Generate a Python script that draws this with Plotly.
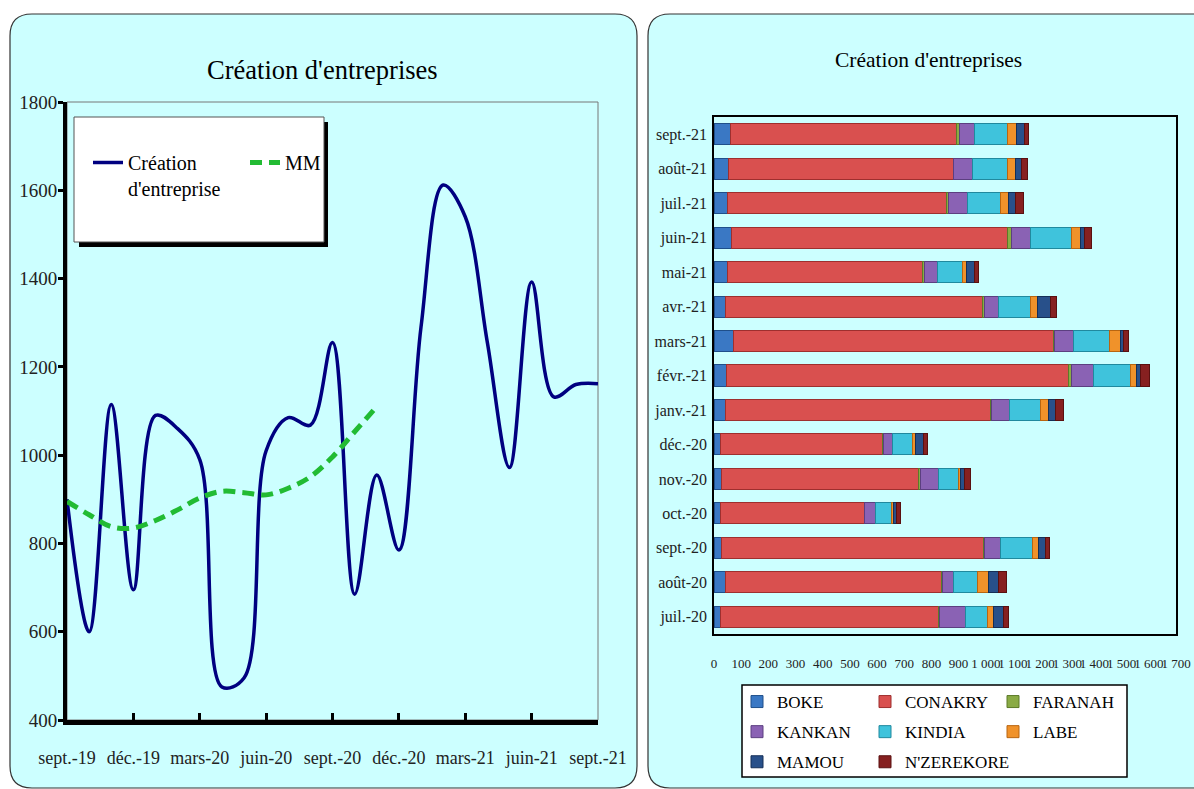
import plotly.graph_objects as go

# ---------------- data ----------------
months = ["sept.-19", "oct.-19", "nov.-19", "déc.-19", "janv.-20", "févr.-20", "mars-20",
          "avr.-20", "mai-20", "juin-20", "juil.-20", "août-20", "sept.-20", "oct.-20",
          "nov.-20", "déc.-20", "janv.-21", "févr.-21", "mars-21", "avr.-21", "mai-21",
          "juin-21", "juil.-21", "août-21", "sept.-21"]
creation = [900, 600, 1115, 695, 1090, 1060, 990, 475, 495, 1010, 1085, 1068, 1255, 685,
            955, 785, 1290, 1612, 1540, 1255, 972, 1392, 1132, 1160, 1162]
mm = [895, 865, 838, 835, 852, 876, 903, 918, 915, 910, 925, 951, 996, 1053, 1110,
      None, None, None, None, None, None, None, None, None, None]
line_ticks = ["sept.-19", "déc.-19", "mars-20", "juin-20", "sept.-20", "déc.-20",
              "mars-21", "juin-21", "sept.-21"]
y_ticks_left = [400, 600, 800, 1000, 1200, 1400, 1600, 1800]

bar_months = ["juil.-20", "août-20", "sept.-20", "oct.-20", "nov.-20", "déc.-20", "janv.-21",
              "févr.-21", "mars-21", "avr.-21", "mai-21", "juin-21", "juil.-21", "août-21",
              "sept.-21"]
boke      = [23, 44, 26, 24, 29, 23, 42, 47, 73, 44, 48, 65, 48, 55, 59]
conakry   = [802, 793, 967, 528, 724, 596, 976, 1259, 1177, 943, 720, 1015, 807, 826, 835]
faranah   = [3, 5, 4, 3, 5, 3, 4, 10, 2, 9, 8, 13, 9, 2, 10]
kankan    = [96, 40, 57, 39, 69, 35, 65, 79, 69, 50, 48, 72, 69, 69, 55]
kindia    = [84, 88, 118, 60, 72, 74, 113, 139, 135, 118, 89, 149, 122, 127, 121]
labe      = [21, 39, 23, 6, 9, 9, 29, 19, 40, 25, 15, 33, 29, 30, 33]
mamou     = [38, 38, 25, 13, 15, 31, 28, 18, 11, 48, 31, 15, 25, 23, 29]
nzerekore = [15, 28, 15, 15, 20, 14, 30, 31, 19, 24, 13, 28, 28, 23, 16]
x_ticks_bar = list(range(0, 1800, 100))
x_ticktext_bar = [str(v) if v < 1000 else f"{v // 1000} {v % 1000:03d}" for v in x_ticks_bar]

W, H = 1194, 789
FONT = "Liberation Serif, Times New Roman, serif"


def px(x):
    return x / W


def py(y):
    return 1 - y / H


fig = go.Figure()

# ---------------- left: line chart ----------------
fig.add_trace(go.Scatter(
    x=months, y=creation, mode="lines", name="Création<br>d'entreprise",
    line=dict(color="#000080", width=3.5, shape="spline", smoothing=1.0),
    xaxis="x", yaxis="y", legend="legend"))
fig.add_trace(go.Scatter(
    x=months, y=mm, mode="lines", name="MM",
    line=dict(color="#22bb33", width=5, dash="12px,7px", shape="spline", smoothing=1.0),
    xaxis="x", yaxis="y", legend="legend"))

# ---------------- right: stacked bars ----------------
# legend columns: legend2 = col 1, legend3 = col 2, legend4 = col 3
series = [
    ("BOKE", boke, "#3a78c4", "#1f4f8a", "legend2"),
    ("CONAKRY", conakry, "#d9504f", "#9e2f2e", "legend3"),
    ("FARANAH", faranah, "#8aab45", "#5c7a28", "legend4"),
    ("KANKAN", kankan, "#8a62b4", "#5c3f80", "legend2"),
    ("KINDIA", kindia, "#3fc3dc", "#20899e", "legend3"),
    ("LABE", labe, "#f0922a", "#b86510", "legend4"),
    ("MAMOU", mamou, "#28508a", "#142f57", "legend2"),
    ("N'ZEREKORE", nzerekore, "#862020", "#5a1010", "legend3"),
]
for name, vals, col, edge, lg in series:
    fig.add_trace(go.Bar(
        y=bar_months, x=vals, orientation="h", name=name, legendgroup=name,
        marker=dict(color=col, line=dict(color=edge, width=1)),
        xaxis="x2", yaxis="y2", legend=lg))


# ---------------- shapes: panels, frames, legend boxes ----------------
def rounded(x0, y0, x1, y1, r):
    return (f"M {px(x0 + r)},{py(y0)} L {px(x1 - r)},{py(y0)} "
            f"Q {px(x1)},{py(y0)} {px(x1)},{py(y0 + r)} "
            f"L {px(x1)},{py(y1 - r)} Q {px(x1)},{py(y1)} {px(x1 - r)},{py(y1)} "
            f"L {px(x0 + r)},{py(y1)} Q {px(x0)},{py(y1)} {px(x0)},{py(y1 - r)} "
            f"L {px(x0)},{py(y0 + r)} Q {px(x0)},{py(y0)} {px(x0 + r)},{py(y0)} Z")


shapes = [
    dict(type="path", xref="paper", yref="paper", path=rounded(10, 14, 637, 788, 22),
         fillcolor="#ccffff", line=dict(color="#333333", width=1.2), layer="below"),
    dict(type="path", xref="paper", yref="paper", path=rounded(648, 14, 1215, 788, 22),
         fillcolor="#ccffff", line=dict(color="#333333", width=1.2), layer="below"),
    # thin grey frame for line plot
    dict(type="rect", xref="x domain", yref="y domain", x0=0, x1=1, y0=0, y1=1,
         line=dict(color="#777777", width=1), fillcolor="rgba(0,0,0,0)", layer="below"),
    # left legend shadow + box
    dict(type="rect", xref="paper", yref="paper", x0=px(79), x1=px(328), y0=py(247), y1=py(122),
         fillcolor="#000000", line=dict(width=0), layer="above"),
    dict(type="rect", xref="paper", yref="paper", x0=px(74), x1=px(324), y0=py(242), y1=py(117),
         fillcolor="#ffffff", line=dict(color="#555555", width=1), layer="above"),
    # bar legend box
    dict(type="rect", xref="paper", yref="paper", x0=px(742), x1=px(1127), y0=py(777), y1=py(685),
         fillcolor="#ffffff", line=dict(color="#000000", width=1.5), layer="below"),
]

annotations = [
    dict(text="Création d'entreprises", xref="paper", yref="paper", x=px(322), y=py(70),
         xanchor="center", yanchor="middle", showarrow=False,
         font=dict(family=FONT, size=26.5, color="#000000")),
    dict(text="Création d'entreprises", xref="paper", yref="paper", x=px(928), y=py(60),
         xanchor="center", yanchor="middle", showarrow=False,
         font=dict(family=FONT, size=21.5, color="#000000")),
]

bar_legend = dict(orientation="v", bgcolor="rgba(0,0,0,0)", borderwidth=0,
                  xanchor="left", yanchor="top", traceorder="grouped", tracegroupgap=5,
                  itemclick=False, itemdoubleclick=False,
                  font=dict(family=FONT, size=17, color="#000000"))

fig.update_layout(
    template="none",
    width=W, height=H,
    margin=dict(l=0, r=0, t=0, b=0, pad=0, autoexpand=False),
    paper_bgcolor="#ffffff", plot_bgcolor="#ffffff",
    font=dict(family=FONT, color="#000000"),
    barmode="stack", bargap=0.39,
    shapes=shapes, annotations=annotations,
    xaxis=dict(domain=[px(67), px(598)], anchor="y", type="category", automargin=False,
               categoryorder="array", categoryarray=months, range=[0, 24],
               tickmode="array", tickvals=line_ticks, ticktext=line_ticks,
               ticks="inside", ticklen=7, tickwidth=3, tickcolor="#000000",
               showline=True, linewidth=5, linecolor="#000000", showgrid=False,
               zeroline=False, tickangle=0, ticklabelstandoff=17,
               tickfont=dict(family=FONT, size=18, color="#222222")),
    yaxis=dict(domain=[py(720), py(102)], anchor="x", range=[400, 1800], automargin=False,
               tickmode="array", tickvals=y_ticks_left,
               ticks="outside", ticklen=5, tickwidth=3, tickcolor="#000000",
               showline=True, linewidth=4, linecolor="#000000", showgrid=False,
               zeroline=False, ticklabelstandoff=-3,
               tickfont=dict(family=FONT, size=19, color="#222222")),
    xaxis2=dict(domain=[px(714), px(1176)], anchor="y2", range=[0, 1700], automargin=False,
                tickmode="array", tickvals=x_ticks_bar, ticktext=x_ticktext_bar,
                ticks="", showline=True, mirror=True, linewidth=1.5, linecolor="#000000",
                showgrid=False, zeroline=False, tickangle=0, ticklabelstandoff=17,
                tickfont=dict(family=FONT, size=13, color="#222222")),
    yaxis2=dict(domain=[py(634), py(117)], anchor="x2", type="category", automargin=False,
                categoryorder="array", categoryarray=bar_months,
                ticks="", showline=True, mirror=True, linewidth=1.5, linecolor="#000000",
                showgrid=False, zeroline=False, ticklabelstandoff=2,
                tickfont=dict(family=FONT, size=16, color="#222222")),
    legend=dict(orientation="h", bgcolor="rgba(0,0,0,0)", borderwidth=0,
                xanchor="left", yanchor="top", entrywidthmode="pixels", entrywidth=112,
                traceorder="normal", valign="top", itemclick=False, itemdoubleclick=False,
                x=px(88), y=py(143),
                font=dict(family=FONT, size=20, color="#000000")),
    legend2=dict(**bar_legend, x=px(737), y=py(684)),
    legend3=dict(**bar_legend, x=px(865), y=py(684)),
    legend4=dict(**bar_legend, x=px(993), y=py(684)),
    showlegend=True,
)

fig.write_html("out.html", config={"displayModeBar": False},
               post_script="document.body.style.margin='0';document.body.style.overflow='hidden';")
